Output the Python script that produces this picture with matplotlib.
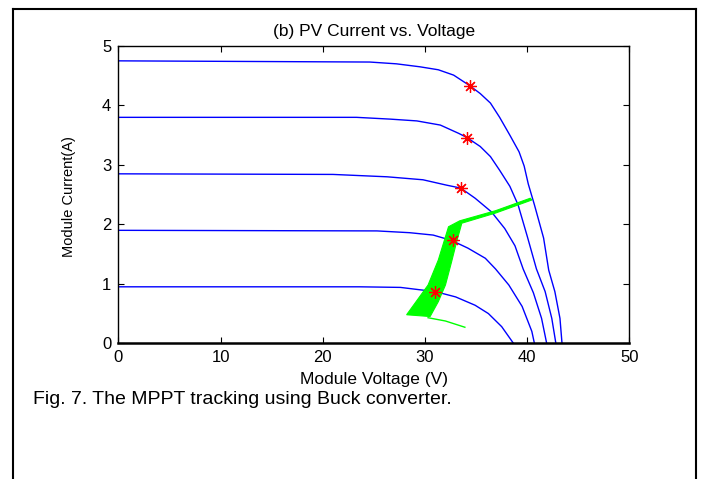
import matplotlib
matplotlib.use("Agg")
import matplotlib.pyplot as plt
from matplotlib.lines import Line2D

plt.rcParams['font.family'] = ['Liberation Sans', 'DejaVu Sans']

# I-V curves (module voltage V, module current A)
v_1000 = [0, 24.6, 27.2, 29.5, 31.3, 32.8, 34.4, 35.4, 36.4, 37.3, 38.3, 39.2, 39.7, 40.1, 40.7, 41.6, 42.1, 42.7, 43.2, 43.4]
i_1000 = [4.75, 4.73, 4.70, 4.65, 4.60, 4.51, 4.33, 4.20, 4.04, 3.80, 3.50, 3.22, 2.98, 2.68, 2.33, 1.77, 1.23, 0.87, 0.42, 0.0]

v_800 = [0, 23.3, 26.6, 29.2, 31.5, 33.3, 34.1, 35.4, 36.4, 37.3, 38.3, 39.1, 40.0, 40.9, 41.75, 42.4, 42.8]
i_800 = [3.80, 3.80, 3.77, 3.74, 3.67, 3.53, 3.46, 3.31, 3.14, 2.91, 2.64, 2.33, 1.80, 1.25, 0.87, 0.42, 0.0]

v_600 = [0, 21.0, 26.3, 29.8, 32.1, 33.5, 34.9, 36.5, 37.8, 38.8, 39.6, 40.6, 41.4, 41.9]
i_600 = [2.85, 2.84, 2.80, 2.75, 2.66, 2.61, 2.44, 2.21, 1.93, 1.64, 1.25, 0.85, 0.42, 0.0]

v_400 = [0, 25.3, 28.5, 30.8, 32.6, 34.2, 35.9, 36.9, 38.2, 39.5, 40.45, 40.7]
i_400 = [1.90, 1.89, 1.86, 1.82, 1.73, 1.60, 1.43, 1.25, 0.98, 0.62, 0.20, 0.0]

v_200 = [0, 23.6, 27.6, 29.5, 31.0, 33.0, 34.9, 36.2, 37.5, 38.65]
i_200 = [0.95, 0.95, 0.94, 0.90, 0.87, 0.78, 0.64, 0.50, 0.28, 0.0]

# maximum power points
mpp_v = [34.4, 34.1, 33.5, 32.7, 31.0]
mpp_i = [4.33, 3.46, 2.61, 1.74, 0.87]

# outline of the tracked operating points (green band)
track_v = [28.2, 29.0, 30.3, 31.3, 32.3, 33.4, 36.9, 40.3, 40.45, 36.9, 33.6, 33.1, 32.6, 32.0, 31.3, 30.5]
track_i = [0.48, 0.67, 0.98, 1.40, 1.96, 2.06, 2.23, 2.44, 2.41, 2.19, 2.02, 1.71, 1.37, 0.98, 0.70, 0.45]
tail_v = [30.3, 32.0, 33.9]
tail_i = [0.43, 0.375, 0.27]

x_ticks = [0, 10, 20, 30, 40, 50]
y_ticks = [0, 1, 2, 3, 4, 5]

fig = plt.figure(figsize=(7.02, 4.79), dpi=100)
ax = fig.add_axes([0.1685, 0.2833, 0.7282, 0.6207])

for v, i in [(v_1000, i_1000), (v_800, i_800), (v_600, i_600), (v_400, i_400), (v_200, i_200)]:
    ax.plot(v, i, color='#0000ff', linewidth=1.0)

ax.fill(track_v, track_i, color='#00ff00', edgecolor='#00ff00', linewidth=0.8, zorder=3)
ax.plot(tail_v, tail_i, color='#00ff00', linewidth=1.0, zorder=3)

ax.plot(mpp_v, mpp_i, linestyle='none', marker=(8, 2, 0), markersize=9,
        markeredgecolor='#ff0000', markeredgewidth=0.9, zorder=4)

ax.set_xlim(0, 50)
ax.set_ylim(0, 5)
ax.set_xticks(x_ticks)
ax.set_yticks(y_ticks)
ax.tick_params(direction='in', top=True, right=True, length=4, width=0.8, labelsize=12)
ax.tick_params(axis='x', pad=5)
ax.tick_params(axis='y', pad=5)
for s in ax.spines.values():
    s.set_linewidth(1.0)
ax.spines['bottom'].set_linewidth(1.8)

ax.set_title('(b) PV Current vs. Voltage', fontsize=12.5, pad=7)
ax.set_xlabel('Module Voltage (V)', fontsize=12.5, labelpad=5)
ax.set_ylabel('Module Current(A)', fontsize=10.5)
ax.yaxis.set_label_coords(-0.082, 0.494)

fig.text(33 / 702, 1 - 399 / 479, 'Fig. 7. The MPPT tracking using Buck converter.',
         fontsize=14, ha='left', va='center')

# page frame around the figure
W, H = 702.0, 479.0
fx0, fx1, fy0 = 13 / W, 696 / W, 1 - 9 / H
for xs, ys in [([fx0, fx0], [0, fy0]), ([fx0, fx1], [fy0, fy0]), ([fx1, fx1], [fy0, 0])]:
    fig.add_artist(Line2D(xs, ys, transform=fig.transFigure, color='black', linewidth=1.5))

fig.savefig('out.png', dpi=100)
